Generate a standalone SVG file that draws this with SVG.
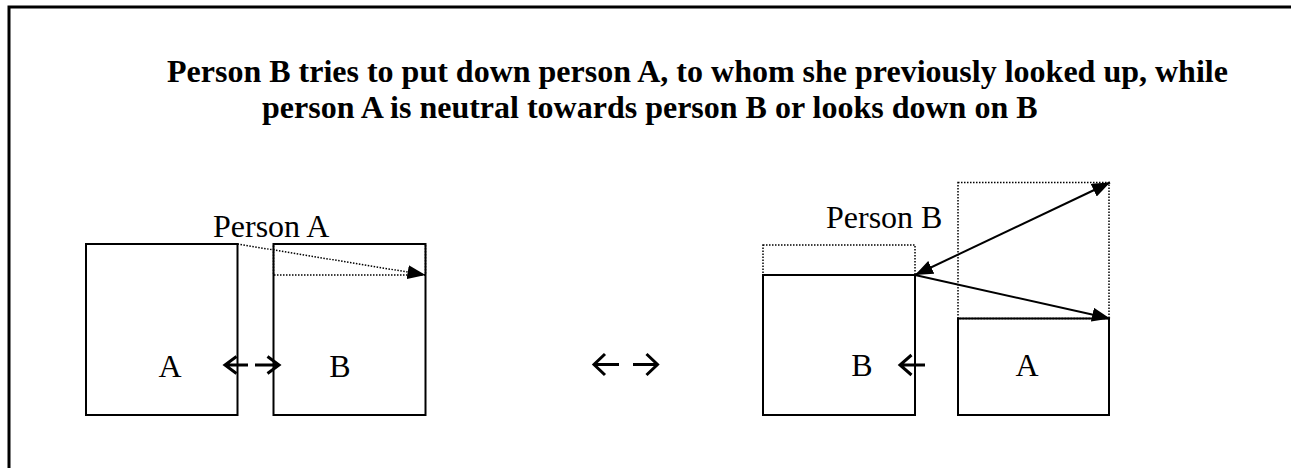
<svg xmlns="http://www.w3.org/2000/svg" width="1291" height="468" viewBox="0 0 1291 468">
<style>
.box{fill:none;stroke:#000;stroke-width:2}
.dot{fill:none;stroke:#000;stroke-width:1.5;stroke-dasharray:1.5 1.5}
.conn{fill:none;stroke:#000;stroke-width:2}
.sym{fill:none;stroke:#000;stroke-width:3;stroke-linecap:butt;stroke-linejoin:miter}
.t{font-family:"Liberation Serif","Times New Roman",serif;font-size:32px;fill:#000}
.title{font-family:"Liberation Serif","Times New Roman",serif;font-size:32px;font-weight:bold;fill:#000}
</style>
<defs>
<marker id="ah" markerWidth="18" markerHeight="14" refX="18" refY="7" orient="auto-start-reverse" markerUnits="userSpaceOnUse">
<path d="M0,0 L18,7 L0,14 z" fill="#000"/>
</marker>
</defs>
<rect width="1291" height="468" fill="#fff"/>
<g id="frame">
<path d="M9,468 L9,7 L1291,7" fill="none" stroke="#000" stroke-width="3"/>
</g>
<g id="title">
<text class="title" x="167" y="82">Person B tries to put down person A, to whom she previously looked up, while</text>
<text class="title" x="262" y="118">person A is neutral towards person B or looks down on B</text>
</g>
<g id="left-figure">
<text class="t" x="213" y="237">Person A</text>
<g id="left-A">
<rect class="box" x="86" y="244" width="151.5" height="171"/>
<text class="t" x="170" y="377" text-anchor="middle">A</text>
</g>
<g id="left-B">
<rect class="box" x="273.5" y="244" width="152" height="171"/>
<rect class="dot" x="273.5" y="244" width="152" height="31"/>
<text class="t" x="340" y="377" text-anchor="middle">B</text>
</g>
</g>
<g id="right-figure">
<text class="t" x="826" y="228">Person B</text>
<g id="right-B">
<rect class="dot" x="763" y="245" width="152" height="30"/>
<rect class="box" x="763" y="275" width="152" height="140"/>
<text class="t" x="862" y="376" text-anchor="middle">B</text>
</g>
<g id="right-A">
<rect class="dot" x="958" y="182.5" width="151" height="136"/>
<rect class="box" x="958" y="318.5" width="151" height="96.5"/>
<text class="t" x="1027" y="376" text-anchor="middle">A</text>
</g>
</g>
<g id="connectors">
<line class="dot" x1="237.5" y1="244" x2="425.5" y2="275" stroke-width="2" marker-end="url(#ah)"/>
<line class="conn" x1="915" y1="275" x2="1110" y2="182.5" marker-start="url(#ah)" marker-end="url(#ah)"/>
<line class="conn" x1="915" y1="275" x2="1110" y2="318.5" marker-end="url(#ah)"/>
<!-- symbol arrows -->
<path class="sym" d="M236.5,356.5 L225,365 L236.5,373.5 M225,365 L248,365"/>
<path class="sym" d="M267.5,356.5 L279,365 L267.5,373.5 M279,365 L255,365"/>
<path class="sym" stroke-width="2.6" d="M605,354 L594,364.5 L605,375 M594,364.5 L619,364.5"/>
<path class="sym" stroke-width="2.6" d="M646.5,354 L657.5,364.5 L646.5,375 M657.5,364.5 L633,364.5"/>
<path class="sym" d="M911.5,355 L900,365 L911.5,375 M900,365 L925,365"/>
</g>
</svg>
